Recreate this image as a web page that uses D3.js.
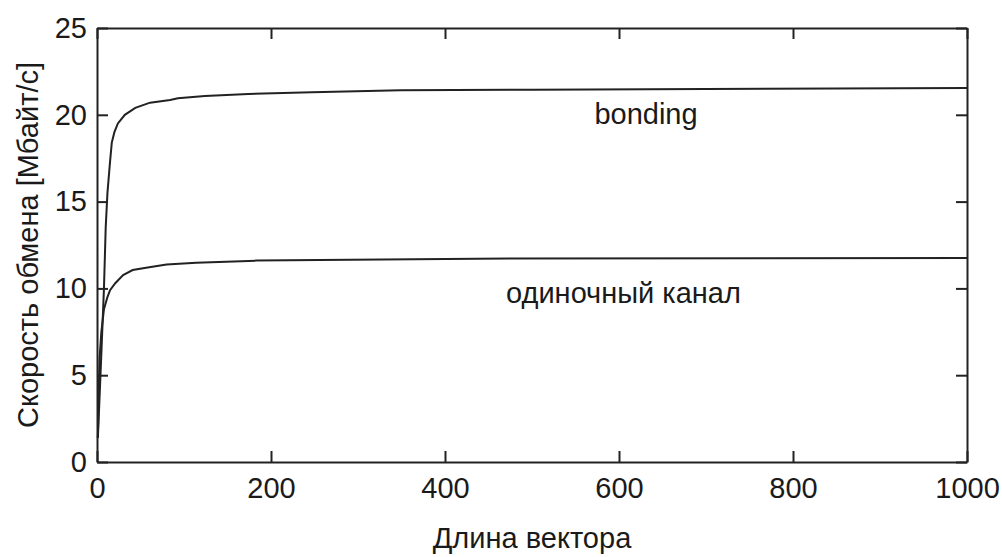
<!DOCTYPE html>
<html>
<head>
<meta charset="utf-8">
<script src="https://cdn.jsdelivr.net/npm/d3@7"></script>
<style>
  body { margin: 0; background: #fff; }
  svg { display: block; }
  text { font-family: "Liberation Sans", Arial, sans-serif; fill: #1a1a1a; }
</style>
</head>
<body>
<svg></svg>
<script>
// data
const bondingX = [1, 4, 8, 10, 12, 15, 17, 20, 24, 32, 44, 61, 84, 93, 124, 174, 247, 349, 500, 700, 849, 1000]
const bondingY = [1.4, 5, 10, 13.5, 15.5, 17.3, 18.4, 19, 19.5, 20.0, 20.4, 20.7, 20.85, 20.95, 21.08, 21.2, 21.3, 21.42, 21.45, 21.48, 21.52, 21.54]
const singleX = [1, 2, 3, 5, 8, 12, 15, 21, 30, 41, 60, 80, 114, 183, 473, 1000]
const singleY = [1.4, 4, 6, 7.5, 8.8, 9.5, 9.9, 10.3, 10.77, 11.06, 11.22, 11.38, 11.48, 11.6, 11.72, 11.75]
const xTicks = [0, 200, 400, 600, 800, 1000]
const yTicks = [0, 5, 10, 15, 20, 25]

const width = 1002
const height = 557
const margin = { left: 97, right: 35, top: 28, bottom: 95 }
const fontSize = 29

const svg = d3.select('svg')
    .attr("width", width)
    .attr("height", height)

const x = d3.scaleLinear()
    .domain([0, 1000])
    .range([margin.left, width - margin.right])

const y = d3.scaleLinear()
    .domain([0, 25])
    .range([height - margin.bottom, margin.top])

const tickLen = 11

// lijnen
const lijn = d3.line()
    .x(d => x(d[0]))
    .y(d => y(d[1]))

const series = [
    d3.zip(bondingX, bondingY),
    d3.zip(singleX, singleY)
]

svg.selectAll('path.serie')
    .data(series)
    .enter()
    .append('path')
    .attr('class', 'serie')
    .attr('d', lijn)
    .attr('fill', 'none')
    .attr('stroke', '#222')
    .attr('stroke-width', 2)

// assen, ticks naar binnen en een kader rondom
svg.append('g')
    .attr('transform', `translate(0,${y(0)})`)
    .call(d3.axisBottom(x).tickValues(xTicks).tickFormat(d3.format('d')).tickSizeInner(-tickLen).tickSizeOuter(0).tickPadding(15))
svg.append('g')
    .attr('transform', `translate(0,${y(25)})`)
    .call(d3.axisTop(x).tickValues(xTicks).tickSizeInner(-tickLen).tickSizeOuter(0).tickFormat(''))
svg.append('g')
    .attr('transform', `translate(${x(0)},0)`)
    .call(d3.axisLeft(y).tickValues(yTicks).tickSizeInner(-tickLen).tickSizeOuter(0).tickPadding(10))
svg.append('g')
    .attr('transform', `translate(${x(1000)},0)`)
    .call(d3.axisRight(y).tickValues(yTicks).tickSizeInner(-tickLen).tickSizeOuter(0).tickFormat(''))

svg.selectAll('.domain, .tick line')
    .attr('stroke', '#222')
    .attr('stroke-width', 2)

svg.selectAll('.tick text')
    .attr('font-size', fontSize)
    .attr('font-family', '"Liberation Sans", Arial, sans-serif')
    .attr('fill', '#1a1a1a')

// labels
svg.append('text')
    .attr('x', 646)
    .attr('y', 124)
    .attr('text-anchor', 'middle')
    .attr('font-size', fontSize)
    .text('bonding')

svg.append('text')
    .attr('x', 506)
    .attr('y', 303)
    .attr('font-size', fontSize)
    .text('одиночный канал')

svg.append('text')
    .attr('x', x(500))
    .attr('y', 548)
    .attr('text-anchor', 'middle')
    .attr('font-size', fontSize)
    .text('Длина вектора')

svg.append('text')
    .attr('transform', `translate(38,${y(12.5)}) rotate(-90)`)
    .attr('text-anchor', 'middle')
    .attr('font-size', fontSize)
    .text('Скорость обмена [Мбайт/с]')
</script>
</body>
</html>
